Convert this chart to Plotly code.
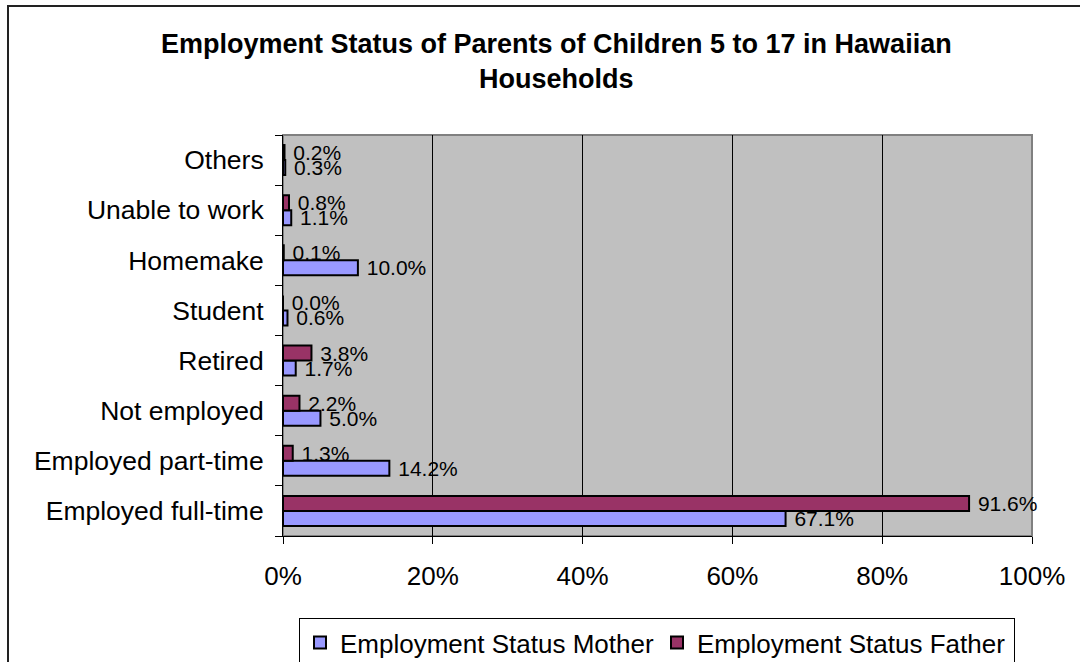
import plotly.graph_objects as go

# Categories listed bottom-to-top on the horizontal bar chart
categories = [
    "Employed full-time",
    "Employed part-time",
    "Not employed",
    "Retired",
    "Student",
    "Homemake",
    "Unable to work",
    "Others",
]
mother_pct = [67.1, 14.2, 5.0, 1.7, 0.6, 10.0, 1.1, 0.3]
father_pct = [91.6, 1.3, 2.2, 3.8, 0.0, 0.1, 0.8, 0.2]
x_ticks = [0, 20, 40, 60, 80, 100]
x_tick_labels = ["0%", "20%", "40%", "60%", "80%", "100%"]

FONT = "Liberation Sans, Arial, sans-serif"
LABEL = "\u00a0%{x:.1f}%"

fig = go.Figure()
fig.add_trace(go.Bar(
    name="Employment Status Mother",
    y=categories, x=mother_pct, orientation="h",
    marker=dict(color="#9999FF", line=dict(color="black", width=2)),
    texttemplate=LABEL, textposition="outside",
    textfont=dict(size=21, color="black", family=FONT),
    constraintext="none", cliponaxis=False,
))
fig.add_trace(go.Bar(
    name="Employment Status Father",
    y=categories, x=father_pct, orientation="h",
    marker=dict(color="#993366", line=dict(color="black", width=2)),
    texttemplate=LABEL, textposition="outside",
    textfont=dict(size=21, color="black", family=FONT),
    constraintext="none", cliponaxis=False,
))

L, R, T, B = 283, 48, 135, 126
W, H = 1080, 662
pw, ph = W - L - R, H - T - B

def px_x(p):
    return (p - L) / pw

def px_y(p):
    return (H - B - p) / ph

fig.update_layout(
    width=W, height=H,
    margin=dict(l=L, r=R, t=T, b=B),
    paper_bgcolor="white",
    plot_bgcolor="#C0C0C0",
    barmode="group",
    bargap=0.4,
    bargroupgap=0,
    font=dict(family=FONT, color="black"),
    xaxis=dict(
        range=[0, 100], tickmode="array", tickvals=x_ticks, ticktext=x_tick_labels,
        showgrid=True, gridcolor="black", gridwidth=1,
        zeroline=False, showline=True, linecolor="black", linewidth=1,
        ticks="outside", ticklen=7, tickcolor="black",
        tickfont=dict(size=26, family=FONT), ticklabelstandoff=10,
    ),
    yaxis=dict(
        showgrid=False, zeroline=False, showline=True,
        linecolor="black", linewidth=1,
        ticks="outside", ticklen=7, tickcolor="black", tickson="boundaries",
        tickfont=dict(size=26.5, family=FONT), ticklabelstandoff=13,
    ),
    legend=dict(
        orientation="h", x=657 / W, xref="container", xanchor="center",
        y=1 - 618 / H, yref="container", yanchor="top",
        bordercolor="black", borderwidth=1, bgcolor="white",
        font=dict(size=26, family=FONT), itemsizing="constant",
        entrywidth=312,
    ),
    annotations=[
        dict(
            text="<b>Employment Status of Parents of Children 5 to 17 in Hawaiian<br>Households</b>",
            xref="paper", yref="paper", x=px_x(556), y=px_y(62),
            xanchor="center", yanchor="middle", showarrow=False,
            font=dict(size=27, family=FONT, color="black"),
        )
    ],
    shapes=[
        # plot area frame (grey top/right edges)
        dict(type="rect", xref="paper", yref="paper", x0=0, x1=1, y0=0, y1=1,
             line=dict(color="#808080", width=2), layer="below"),
        # outer chart frame
        dict(type="rect", xref="paper", yref="paper",
             x0=px_x(8), x1=px_x(1095), y0=px_y(680), y1=px_y(6),
             line=dict(color="#222222", width=2)),
    ],
)

fig.write_html("out.html")
